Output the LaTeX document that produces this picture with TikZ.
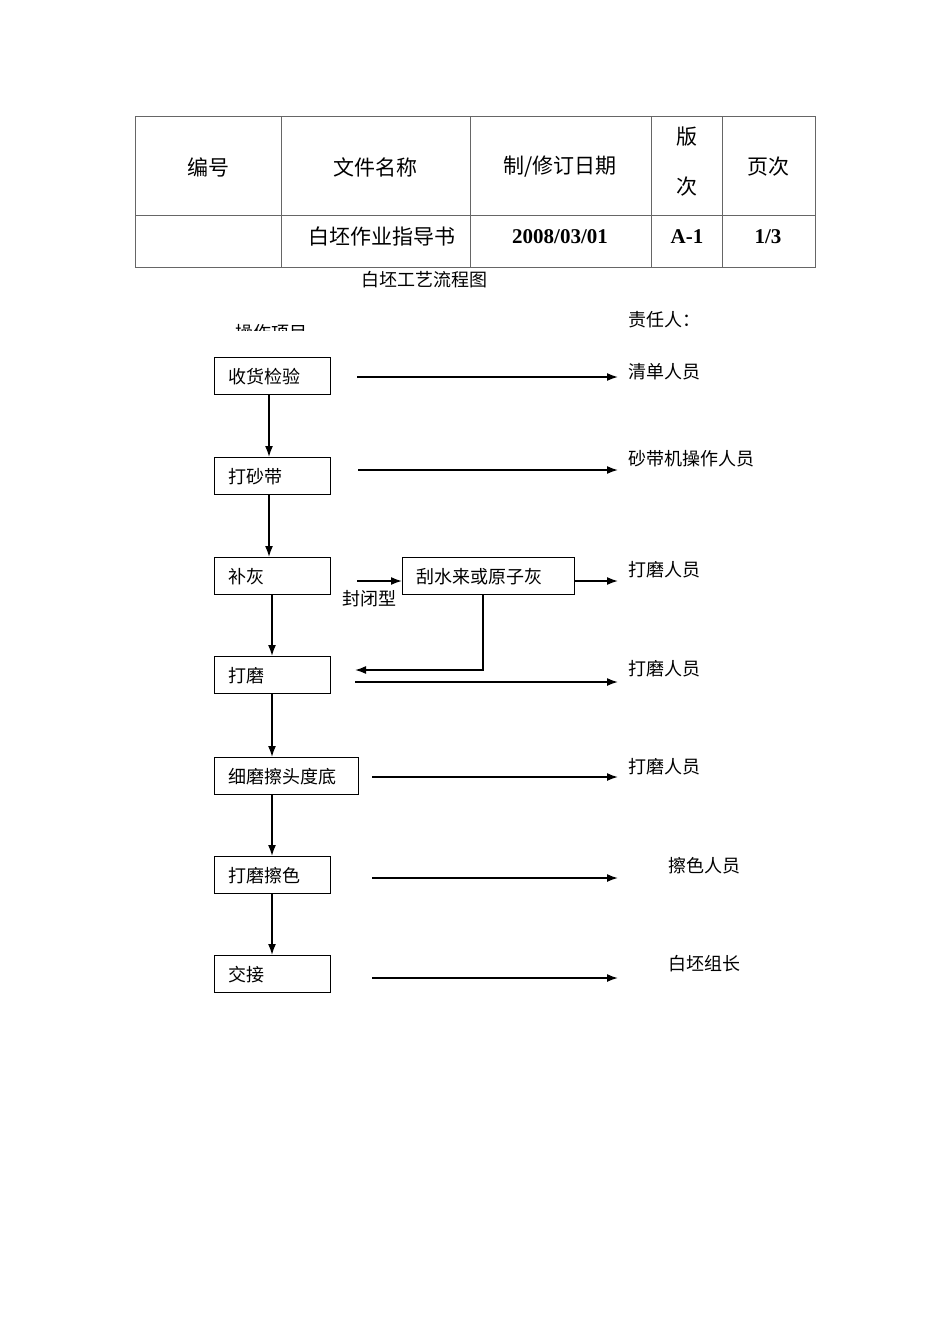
\documentclass[tikz,border=0pt]{standalone}
\usepackage{fontspec}
\setmainfont{Liberation Serif}
\newfontfamily\cjk{Noto Sans CJK SC}
\usetikzlibrary{arrows.meta}
\begin{document}
\begin{tikzpicture}[x=1pt,y=-1pt,
 box/.style={draw,line width=1.4pt,minimum height=37pt,anchor=north west,inner sep=0pt,inner xsep=14pt,align=left,font=\cjk\fontsize{18}{18}\selectfont},
 lbl/.style={font=\cjk\fontsize{18}{18}\selectfont,anchor=west,inner sep=0pt},
 th/.style={font=\cjk\fontsize{21}{21}\selectfont,inner sep=0pt},
 arr/.style={-{Latex[length=11pt,width=8pt]},line width=1.6pt}]
\useasboundingbox (0,0) rectangle (950,1344);
\fill[white] (0,0) rectangle (950,1344);
% table
\draw[gray!80!black,line width=1pt] (135,116) rectangle (815,267);
\draw[gray!80!black,line width=1pt] (135,215) -- (815,215);
\foreach \x in {281,470,651,722}\draw[gray!80!black,line width=1pt] (\x,116) -- (\x,267);
\node[th] (h1) at (208,167) {编号};
\node[th] (h2) at (375,167) {文件名称};
\node[th] (h3) at (560,167) {制/修订日期};
\node[th] (h4a) at (687,137) {版};
\node[th] (h4b) at (687,187) {次};
\node[th] (h5) at (768,167) {页次};
\node[th] (r2) at (382,236) {白坯作业指导书};
\node[font=\bfseries\fontsize{21}{21}\selectfont] (r3) at (560,237) {2008/03/01};
\node[font=\bfseries\fontsize{21}{21}\selectfont] (r4) at (687,237) {A-1};
\node[font=\bfseries\fontsize{21}{21}\selectfont] (r5) at (768,237) {1/3};
\node[font=\cjk\fontsize{18}{18}\selectfont] (title) at (424,280) {白坯工艺流程图};
\begin{scope}
\clip (200,300) rectangle (400,330);
\node[lbl] (op) at (235,333) {操作项目};
\end{scope}
\node[lbl] (zr) at (628,320) {责任人：};
% boxes
\node[box,text width=88pt] (b1) at (214,357) {收货检验};
\node[box,text width=88pt] (b2) at (214,457) {打砂带};
\node[box,text width=88pt] (b3) at (214,557) {补灰};
\node[box,text width=88pt] (b4) at (214,656) {打磨};
\node[box,text width=116pt] (b5) at (214,757) {细磨擦头度底};
\node[box,text width=88pt] (b6) at (214,856) {打磨擦色};
\node[box,text width=88pt] (b7) at (214,955) {交接};
\node[box,text width=144pt] (gs) at (402,557) {刮水来或原子灰};
\node[lbl] (fb) at (342,599) {封闭型};
% right labels
\node[lbl] (p1) at (628,372) {清单人员};
\node[lbl] (p2) at (628,459) {砂带机操作人员};
\node[lbl] (p3) at (628,570) {打磨人员};
\node[lbl] (p4) at (628,669) {打磨人员};
\node[lbl] (p5) at (628,767) {打磨人员};
\node[lbl] (p6) at (668,866) {擦色人员};
\node[lbl] (p7) at (668,964) {白坯组长};
% vertical arrows
\draw[arr] (b1.south -| 269,0) -- (b2.north -| 269,0);
\draw[arr] (b2.south -| 269,0) -- (b3.north -| 269,0);
\draw[arr] (b3.south -| 272,0) -- (b4.north -| 272,0);
\draw[arr] (b4.south -| 272,0) -- (b5.north -| 272,0);
\draw[arr] (b5.south -| 272,0) -- (b6.north -| 272,0);
\draw[arr] (b6.south -| 272,0) -- (b7.north -| 272,0);
% horizontal
\coordinate (s1) at (357,377); \coordinate (e1) at (618,377);
\draw[arr] (s1) -- (e1);
\coordinate (s2) at (358,470); \coordinate (e2) at (618,470);
\draw[arr] (s2) -- (e2);
\coordinate (s3) at (357,581);
\draw[arr] (s3) -- (gs.west |- s3);
\coordinate (e3) at (618,581);
\draw[arr] (gs.east |- e3) -- (e3);
\coordinate (rt) at (355,670);
\draw[arr] (gs.south -| 483,0) |- (rt);
\coordinate (s4) at (355,682); \coordinate (e4) at (618,682);
\draw[arr] (s4) -- (e4);
\coordinate (s5) at (372,777); \coordinate (e5) at (618,777);
\draw[arr] (s5) -- (e5);
\coordinate (s6) at (372,878); \coordinate (e6) at (618,878);
\draw[arr] (s6) -- (e6);
\coordinate (s7) at (372,978); \coordinate (e7) at (618,978);
\draw[arr] (s7) -- (e7);
\end{tikzpicture}
\end{document}
